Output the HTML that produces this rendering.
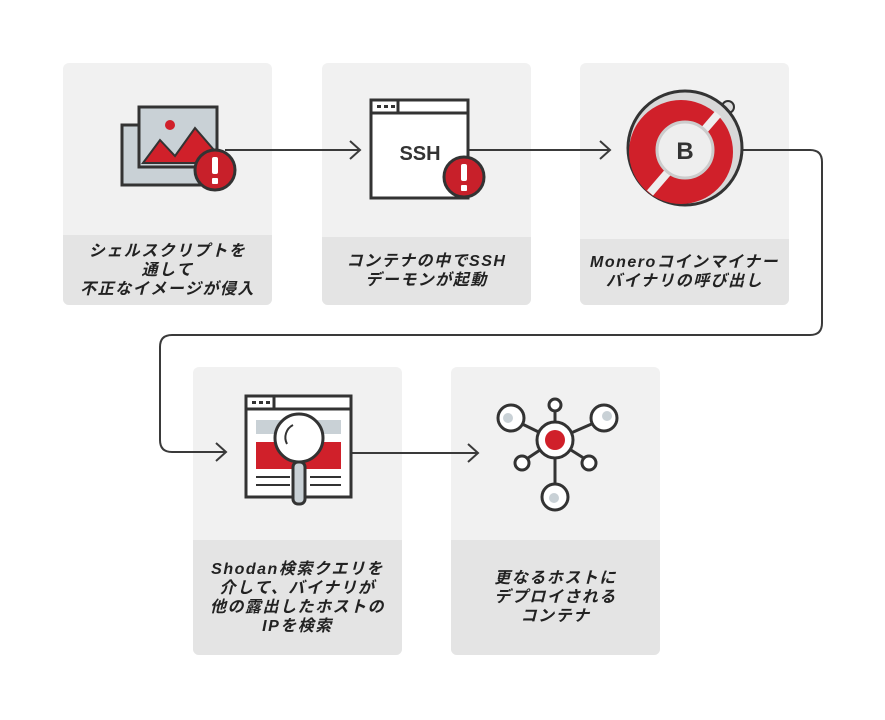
<!DOCTYPE html>
<html><head><meta charset="utf-8"><style>
body{margin:0;background:#fff;width:885px;height:720px;overflow:hidden;font-family:"Liberation Sans","Noto Sans CJK JP",sans-serif}
.box{position:absolute;background:#f1f1f1;border-radius:6px;overflow:hidden}
.lab{position:absolute;left:0;right:0;bottom:0;background:#e4e4e4;display:flex;align-items:center;justify-content:center;text-align:center;font-size:16px;line-height:19px;font-style:italic;font-weight:bold;color:#222;letter-spacing:1.5px}
svg{position:absolute;left:0;top:0}
</style></head><body>
<div class="box" style="left:63px;top:63px;width:209px;height:242px"><div class="lab" style="height:70px">シェルスクリプトを<br>通して<br>不正なイメージが侵入</div></div>
<div class="box" style="left:322px;top:63px;width:209px;height:242px"><div class="lab" style="height:68px">コンテナの中でSSH<br>デーモンが起動</div></div>
<div class="box" style="left:580px;top:63px;width:209px;height:242px"><div class="lab" style="height:66px">Moneroコインマイナー<br>バイナリの呼び出し</div></div>
<div class="box" style="left:193px;top:367px;width:209px;height:288px"><div class="lab" style="height:115px">Shodan検索クエリを<br>介して、バイナリが<br>他の露出したホストの<br>IPを検索</div></div>
<div class="box" style="left:451px;top:367px;width:209px;height:288px"><div class="lab" style="height:115px">更なるホストに<br>デプロイされる<br>コンテナ</div></div>
<svg width="885" height="720" viewBox="0 0 885 720">
<g fill="none" stroke="#3a3a3a" stroke-width="2">
<path d="M225 150 H360 M350 141 L360 150 L350 159"/>
<path d="M468 150 H610 M600 141 L610 150 L600 159"/>
<path d="M742 150 H810 Q822 150 822 162 V323 Q822 335 810 335 H172 Q160 335 160 347 V440 Q160 452 172 452 H226 M216 443 L226 452 L216 461"/>
<path d="M352 453 H478 M468 444 L478 453 L468 462"/>
</g>
<rect x="122" y="125" width="84" height="60" fill="#c9d1d6" stroke="#333" stroke-width="3"/>
<rect x="139" y="107" width="78" height="60" fill="#c9d1d6" stroke="#333" stroke-width="3"/>
<circle cx="170" cy="125" r="5" fill="#d0202a"/>
<path d="M143 163 L160 140 L175 156 L195 128 L214 150 V163 Z" fill="#d0202a" stroke="#333" stroke-width="2"/>
<circle cx="215" cy="170" r="20" fill="#c8202a" stroke="#333" stroke-width="3"/>
<rect x="212" y="157" width="6" height="17" rx="2" fill="#fff"/><rect x="212" y="178" width="6" height="6" rx="1" fill="#fff"/>
<rect x="371" y="100" width="97" height="98" fill="#fff" stroke="#333" stroke-width="3"/>
<line x1="371" y1="113" x2="468" y2="113" stroke="#333" stroke-width="3"/>
<line x1="398" y1="100" x2="398" y2="113" stroke="#333" stroke-width="3"/>
<g fill="#333"><rect x="377" y="105" width="4" height="3"/><rect x="384" y="105" width="4" height="3"/><rect x="391" y="105" width="4" height="3"/></g>
<text x="420" y="160" text-anchor="middle" font-family="Liberation Sans,sans-serif" font-weight="bold" font-size="20" fill="#333">SSH</text>
<circle cx="464" cy="177" r="20" fill="#c8202a" stroke="#333" stroke-width="3"/>
<rect x="461" y="164" width="6" height="17" rx="2" fill="#fff"/><rect x="461" y="185" width="6" height="6" rx="1" fill="#fff"/>
<circle cx="728" cy="107" r="6" fill="#ddd" stroke="#333" stroke-width="2"/>
<circle cx="685" cy="148" r="57" fill="#d8d8d8" stroke="#333" stroke-width="3"/>
<circle cx="681" cy="152" r="52" fill="#d0202a"/>
<path d="M650 193 L718 114" stroke="#eee" stroke-width="8"/>
<circle cx="685" cy="150" r="28" fill="#eee" stroke="#ccc" stroke-width="3"/>
<text x="685" y="159" text-anchor="middle" font-family="Liberation Sans,sans-serif" font-weight="bold" font-size="24" fill="#333">B</text>
<rect x="246" y="396" width="105" height="101" fill="#fff" stroke="#333" stroke-width="3"/>
<line x1="246" y1="409" x2="351" y2="409" stroke="#333" stroke-width="3"/>
<line x1="274" y1="396" x2="274" y2="409" stroke="#333" stroke-width="3"/>
<g fill="#333"><rect x="252" y="401" width="4" height="3"/><rect x="259" y="401" width="4" height="3"/><rect x="266" y="401" width="4" height="3"/></g>
<rect x="256" y="420" width="85" height="14" fill="#c9d1d6"/>
<rect x="256" y="442" width="85" height="27" fill="#d0202a"/>
<g stroke="#333" stroke-width="2"><line x1="256" y1="477" x2="290" y2="477"/><line x1="310" y1="477" x2="341" y2="477"/><line x1="256" y1="485" x2="290" y2="485"/><line x1="310" y1="485" x2="341" y2="485"/></g>
<rect x="293" y="462" width="12" height="42" rx="5" fill="#c9d1d6" stroke="#333" stroke-width="3"/>
<circle cx="299" cy="438" r="24" fill="#fff" stroke="#333" stroke-width="3"/>
<path d="M287 444 A14 14 0 0 1 293 425" fill="none" stroke="#333" stroke-width="2"/>
<g stroke="#333" stroke-width="3" fill="#fff">
<line x1="555" y1="440" x2="512" y2="419"/><line x1="555" y1="440" x2="603" y2="419"/><line x1="555" y1="440" x2="555" y2="405"/><line x1="555" y1="440" x2="522" y2="462"/><line x1="555" y1="440" x2="590" y2="462"/><line x1="555" y1="440" x2="555" y2="497"/>
<circle cx="511" cy="418" r="13"/><circle cx="604" cy="418" r="13"/><circle cx="555" cy="405" r="6"/><circle cx="522" cy="463" r="7"/><circle cx="589" cy="463" r="7"/><circle cx="555" cy="497" r="13"/>
<circle cx="555" cy="440" r="18"/>
</g>
<g fill="#c9d1d6"><circle cx="508" cy="418" r="5"/><circle cx="607" cy="416" r="5"/><circle cx="554" cy="498" r="5"/></g>
<circle cx="555" cy="440" r="10" fill="#d0202a"/>
</svg>
</body></html>
